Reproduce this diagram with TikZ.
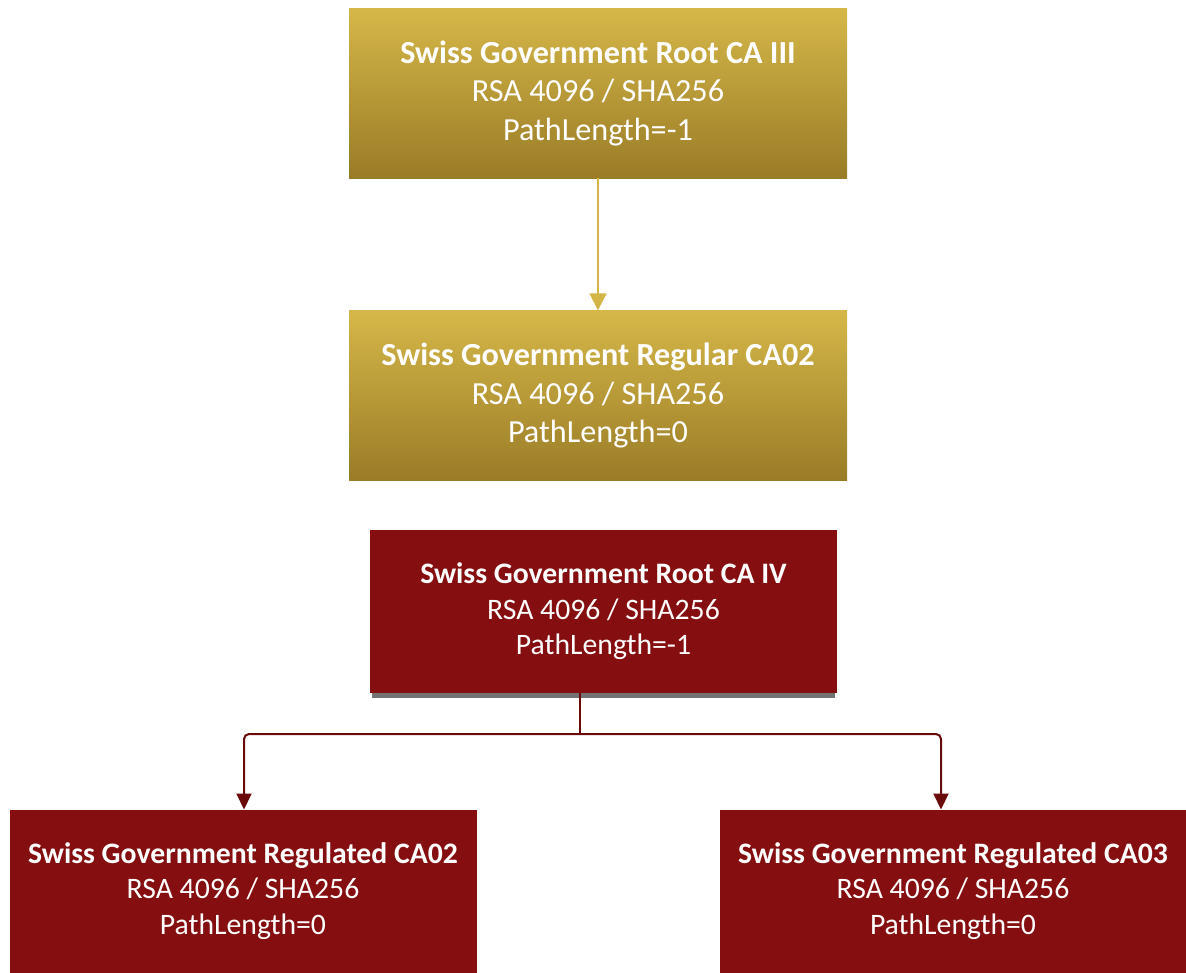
\documentclass[tikz,border=0pt]{standalone}
\usepackage{fontspec}
\setmainfont{Carlito}
\usetikzlibrary{arrows.meta,shadows}
\definecolor{goldtop}{HTML}{D5B749}
\definecolor{goldbot}{HTML}{9A7C27}
\definecolor{goldline}{HTML}{D4B548}
\definecolor{carmine}{HTML}{850F10}
\definecolor{carline}{HTML}{6B0A0B}

\begin{document}
\begin{tikzpicture}[x=1pt,y=-1pt,
    cabox/.style={rectangle,inner sep=0pt,text=white,align=center},
    goldca/.style={cabox,minimum width=498pt,minimum height=170pt,
      font=\fontsize{32.2}{38.5}\selectfont,
      top color=goldtop,bottom color=goldbot},
    redca/.style={cabox,minimum width=467pt,minimum height=163pt,
      font=\fontsize{29.7}{35.5}\selectfont,fill=carmine},
    goldlink/.style={draw=goldline,line width=2pt,
      -{Triangle[length=17pt,width=17pt]}},
    redlink/.style={draw=carline,line width=2pt,rounded corners=5pt,
      -{Triangle[length=16pt,width=15pt]}}]
  \useasboundingbox (0,0) rectangle (1186,972);
  \node[goldca] (root3) at (598,93)
    {\textbf{Swiss Government Root CA III}\\RSA 4096 / SHA256\\PathLength=-1};
  \node[goldca] (reg02) at (598,395.5)
    {\textbf{Swiss Government Regular CA02}\\RSA 4096 / SHA256\\PathLength=0};
  \node[redca,drop shadow={shadow xshift=0pt,shadow yshift=-6pt,
      shadow scale=0.99,fill=black!55,opacity=1}] (root4) at (603.5,611.5)
    {\textbf{Swiss Government Root CA IV}\\RSA 4096 / SHA256\\PathLength=-1};
  \node[redca] (regl02) at (243,891)
    {\textbf{Swiss Government Regulated CA02}\\RSA 4096 / SHA256\\PathLength=0};
  \node[redca] (regl03) at (953,891)
    {\textbf{Swiss Government Regulated CA03}\\RSA 4096 / SHA256\\PathLength=0};
  \coordinate (stem) at (580,734);
  \coordinate (dropl) at (244,809.5);
  \coordinate (dropr) at (941,809.5);
  \draw[goldlink] (root3) -- (reg02);
  \draw[draw=carline,line width=2pt] (root4.south -| stem) -- (stem);
  \draw[redlink] (stem) -| (dropl);
  \draw[redlink] (stem) -| (dropr);
\end{tikzpicture}
\end{document}
